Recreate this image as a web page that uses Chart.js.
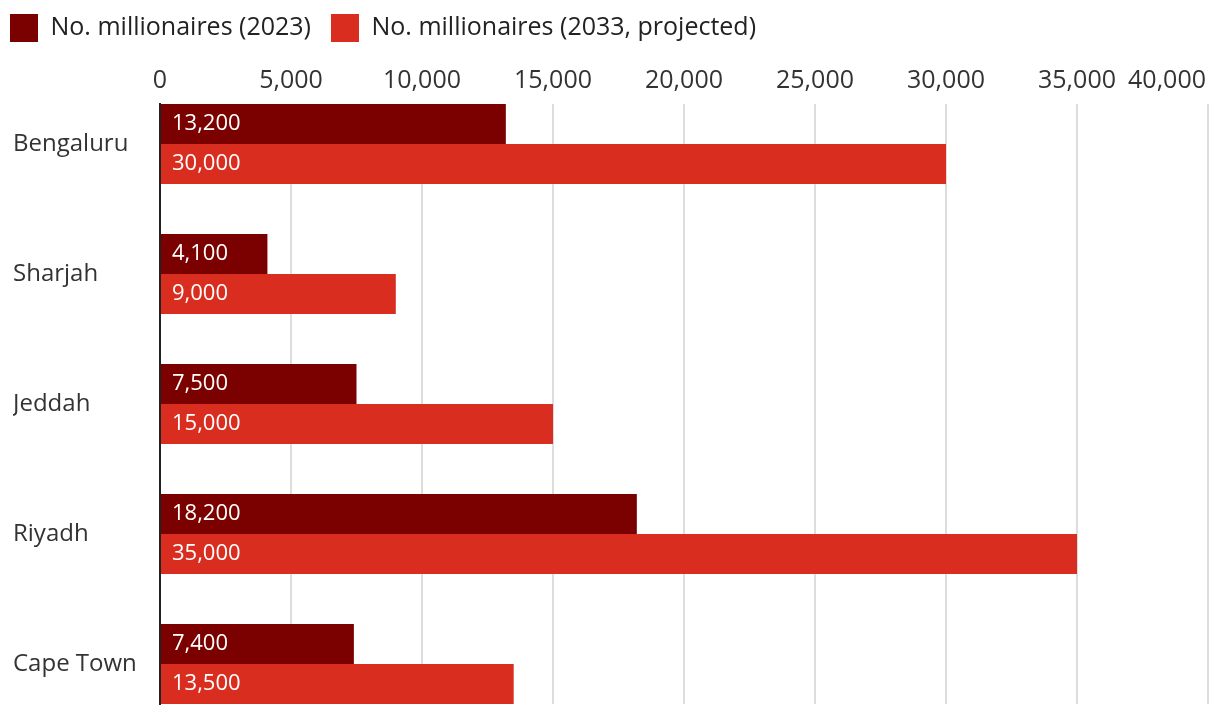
<!DOCTYPE html>
<html>
<head>
<meta charset="utf-8">
<script src="https://cdn.jsdelivr.net/npm/chart.js@4.4.1/dist/chart.umd.min.js"></script>
<style>
  html, body { margin: 0; padding: 0; background: #fff; }
  #wrap { width: 1220px; height: 716px; }
</style>
</head>
<body>
<div id="wrap"><canvas id="chart"></canvas></div>
<script>
const cities = ["Bengaluru", "Sharjah", "Jeddah", "Riyadh", "Cape Town"];
const millionaires2023 = [13200, 4100, 7500, 18200, 7400];
const millionaires2033 = [30000, 9000, 15000, 35000, 13500];
const xTicks = [0, 5000, 10000, 15000, 20000, 25000, 30000, 35000, 40000];

const FONT = "'Open Sans', sans-serif";
const fmt = v => v.toLocaleString("en-US");

// white value labels inside the bars + last x tick pulled left so it fits
const barLabels = {
  id: "barLabels",
  beforeDraw(chart) {
    // legend starts flush with the page edge, not after its padding
    chart.legend.left = 10 - chart.legend.options.labels.padding;
  },
  afterDatasetsDraw(chart) {
    const ctx = chart.ctx;
    ctx.save();
    ctx.font = "22px " + FONT;
    ctx.fillStyle = "#fff";
    ctx.textAlign = "left";
    ctx.textBaseline = "middle";
    chart.data.datasets.forEach((ds, i) => {
      chart.getDatasetMeta(i).data.forEach((bar, j) => {
        ctx.fillText(fmt(ds.data[j].x), bar.base + 11, bar.y);
      });
    });
    ctx.fillStyle = "#333";
    ctx.font = "25px " + FONT;
    ctx.textAlign = "right";
    ctx.fillText(fmt(xTicks[xTicks.length - 1]), 1206, chart.chartArea.top - 23);
    ctx.restore();
  }
};

new Chart(document.getElementById("chart"), {
  type: "bar",
  data: {
    datasets: [
      {
        label: "No. millionaires (2023)",
        data: millionaires2023.map((v, i) => ({ x: v, y: i })),
        backgroundColor: "#7b0000",
      },
      {
        label: "No. millionaires (2033, projected)",
        data: millionaires2033.map((v, i) => ({ x: v, y: i })),
        backgroundColor: "#d92e1f",
      },
    ],
  },
  options: {
    indexAxis: "y",
    responsive: true,
    maintainAspectRatio: false,
    animation: false,
    categoryPercentage: 80 / 130,
    barPercentage: 1,
    layout: { padding: { left: 13, right: 12, top: -6, bottom: 12 } },
    plugins: {
      legend: {
        position: "top",
        align: "start",
        labels: {
          boxWidth: 28,
          boxHeight: 28,
          padding: 20,
          color: "#222",
          font: { family: FONT, size: 25 },
        },
      },
      tooltip: { enabled: false },
    },
    scales: {
      x: {
        position: "top",
        min: 0,
        max: 40000,
        afterBuildTicks: s => { s.ticks = xTicks.map(v => ({ value: v })); },
        afterFit: s => { s.paddingLeft = 0; s.paddingRight = 0; s.height = 52; },
        ticks: {
          color: "#333",
          padding: 8,
          font: { family: FONT, size: 25 },
          callback: v => (v === 40000 ? "" : fmt(v)),
        },
        grid: { color: "#dddddd", lineWidth: 2, drawTicks: false },
        border: { display: false },
      },
      y: {
        type: "linear",
        reverse: true,
        offset: false,
        min: -40 / 130,
        max: 4 + 40 / 130,
        afterBuildTicks: s => { s.ticks = cities.map((c, i) => ({ value: i })); },
        afterFit: s => { s.width = 147; s.paddingTop = 0; s.paddingBottom = 0; },
        ticks: {
          color: "#333",
          crossAlign: "far",
          font: { family: FONT, size: 24 },
          callback: v => cities[v],
        },
        grid: { display: false, offset: false },
        border: { display: true, color: "#222", width: 2 },
      },
    },
  },
  plugins: [barLabels],
});
</script>
</body>
</html>
